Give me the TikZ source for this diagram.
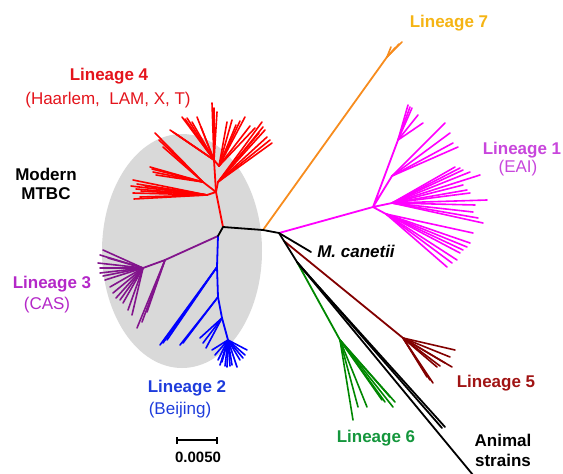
\documentclass[tikz,border=0pt]{standalone}
\usepackage{fontspec}
\setmainfont{Liberation Sans}
\definecolor{ellgray}{RGB}{217,217,217}
\definecolor{linR}{RGB}{255,0,0}
\definecolor{linO}{RGB}{247,140,30}
\definecolor{linM}{RGB}{255,0,255}
\definecolor{linP}{RGB}{130,20,140}
\definecolor{linB}{RGB}{0,0,255}
\definecolor{linD}{RGB}{130,0,0}
\definecolor{linG}{RGB}{0,135,0}
\definecolor{txR}{RGB}{228,20,28}
\definecolor{txO}{RGB}{245,180,20}
\definecolor{txM}{RGB}{200,70,220}
\definecolor{txP}{RGB}{180,40,200}
\definecolor{txB}{RGB}{30,60,220}
\definecolor{txD}{RGB}{160,20,20}
\definecolor{txG}{RGB}{20,150,60}
\begin{document}
\begin{tikzpicture}[x=1pt,y=-1pt,
  br/.style={line width=1.8pt, line cap=round, line join=round},
  tip/.style={line width=1.6pt, line cap=round},
  lab/.style={font=\fontsize{17}{20}\selectfont\bfseries, inner sep=0pt},
  sub/.style={font=\fontsize{17}{20}\selectfont, inner sep=0pt}]
\useasboundingbox (0,0) rectangle (563,474);

% grey shading behind the modern lineages
\fill[ellgray] (182,251) ellipse [x radius=80pt, y radius=117pt];

% internal nodes of the tree
\coordinate (A) at (223,227);
\coordinate (B) at (218,236);
\coordinate (C) at (263,230);
\coordinate (D) at (279,233);
\coordinate (F) at (284,241);
\coordinate (E) at (297,262);
\coordinate (E2) at (300,266);
\coordinate (can) at (311,252);
\coordinate (an1) at (442,428);
\coordinate (an2) at (445,427);
\coordinate (an3) at (473,475);

% lineage 4 (red)
\coordinate (H4) at (216,192);
\coordinate (r1) at (207,195);
\coordinate (r2) at (203,182);
\coordinate (r3) at (214,160);
\coordinate (r4) at (219,166);
\coordinate (r5) at (218,182);
\draw[br,linR] (A) -- (H4) -- (r3);
\draw[br,linR] (H4) -- (r1) (H4) -- (r2) (H4) -- (r5);
\foreach \x/\y in {133/180,131/186,133/193,134/199,140/197,145/186,137/184,141/191,136/189}
  \draw[tip,linR] (r1) -- (\x,\y);
\foreach \x/\y in {150/167,153/172,156/175,152/169,155/133,159/140,163/147}
  \draw[tip,linR] (r2) -- (\x,\y);
\foreach \x/\y in {170/130,173/132,176/134,182/117,185/119,187/118,192/122,197/117,201/127,212/103,214/108,217/112}
  \draw[tip,linR] (r3) -- (\x,\y);
\foreach \x/\y in {227/122,232/120,236/125,240/121,245/117,250/126,255/128}
  \draw[tip,linR] (r4) -- (\x,\y);
\draw[br,linR] (r3) -- (r4);
\foreach \x/\y in {262/122,267/137,272/143,270/140,265/130,259/133,263/127}
  \draw[tip,linR] (r5) -- (\x,\y);

% lineage 3 (purple)
\coordinate (p1) at (165,260);
\coordinate (p2) at (143,268);
\draw[br,linP] (B) -- (p1) -- (p2);
\foreach \x/\y in {137/328,142/322,147/312}
  \draw[tip,linP] (p1) -- (\x,\y);
\foreach \x/\y in {103/250,100/255,98/263,100/268,100/273,103/276,105/280,108/258,110/287,113/293,116/298,120/300,123/303,128/310,132/315}
  \draw[tip,linP] (p2) -- (\x,\y);

% lineage 2 (blue)
\coordinate (b1) at (217,267);
\coordinate (b2) at (218,297);
\coordinate (b3) at (222,318);
\coordinate (b4) at (228,340);
\draw[br,linB] (B) -- (b1) -- (b2) -- (b3) -- (b4);
\foreach \x/\y in {160/345,163/343,167/340}
  \draw[tip,linB] (b1) -- (\x,\y);
\foreach \x/\y in {180/345,183/343}
  \draw[tip,linB] (b2) -- (\x,\y);
\foreach \x/\y in {200/338,203/343,206/348}
  \draw[tip,linB] (b3) -- (\x,\y);
\foreach \x/\y in {212/350,215/355,218/360,220/365,222/362,225/366,227/367,230/366,232/365,237/367,240/360,243/358,245/355,247/350}
  \draw[tip,linB] (b4) -- (\x,\y);

% lineage 7 (orange)
\coordinate (o1) at (387,57);
\draw[br,linO] (C) -- (o1);
\foreach \x/\y in {391/47,395/48,402/42,399/44}
  \draw[tip,linO] (o1) -- (\x,\y);

% lineage 1 (magenta)
\coordinate (P) at (373,207);
\coordinate (pu1) at (398,140);
\coordinate (pu2) at (392,176);
\coordinate (pr) at (392,203);
\coordinate (pd) at (386,214);
\draw[br,linM] (D) -- (P);
\draw[br,linM] (P) -- (pu1) (P) -- (pu2) (P) -- (pr) (P) -- (pd);
\foreach \x/\y in {408/105,410/107,412/108,418/115,423/123}
  \draw[tip,linM] (pu1) -- (\x,\y);
\foreach \x/\y in {445/123,450/133,453/143,458/147}
  \draw[tip,linM] (pu2) -- (\x,\y);
\foreach \x/\y in {455/167,460/168,463/170,470/172,480/175,463/185,467/190,470/193,475/205,487/200,473/212,483/223,478/218}
  \draw[tip,linM] (pr) -- (\x,\y);
\foreach \x/\y in {473/233,470/243,467/247,463/250,460/253,457/260,452/263,447/267}
  \draw[tip,linM] (pd) -- (\x,\y);

% lineage 5 (dark red)
\coordinate (L5) at (403,338);
\draw[br,linD] (F) -- (L5);
\foreach \x/\y in {455/350,450/357,452/367,445/363,440/366,437/367,433/383,430/380,427/377}
  \draw[tip,linD] (L5) -- (\x,\y);

% lineage 6 (green)
\coordinate (G) at (340,340);
\draw[br,linG] (E) -- (G);
\foreach \x/\y in {353/420,358/407,367/407,382/400,385/402,393/407,395/402,390/397}
  \draw[tip,linG] (G) -- (\x,\y);

% black backbone, M. canetii and animal strains
\draw[br,black] (B) -- (A) -- (C) -- (D) -- (F) -- (E);
\draw[br,black] (D) -- (can);
\draw[br,black] (E) -- (an1);
\draw[br,black] (E2) -- (an2);
\draw[br,black] (E) -- (an3);

% scale bar
\coordinate (s1) at (177,440);
\coordinate (s2) at (217,440);
\draw[line width=1.6pt] (s1) -- (s2);
\draw[line width=1.6pt] ([yshift=-3.5pt]s1) -- ([yshift=3.5pt]s1);
\draw[line width=1.6pt] ([yshift=-3.5pt]s2) -- ([yshift=3.5pt]s2);
\node[lab, font=\fontsize{15}{18}\selectfont\bfseries] (scl) at (198,457) {0.0050};

% labels
\node[lab, text=txR] (t4) at (109,76) {Lineage 4};
\node[sub, text=txR] (t4s) at (108,100) {(Haarlem,\ \ LAM, X, T)};
\node[lab, text=txO] (t7) at (449,23) {Lineage 7};
\node[lab, text=txM] (t1) at (522,150) {Lineage 1};
\node[sub, text=txM] (t1s) at (518,168) {(EAI)};
\node[lab, align=center, font=\fontsize{17}{19}\selectfont\bfseries] (tm) at (46,184) {Modern\\MTBC};
\node[lab, text=txP] (t3) at (52,284) {Lineage 3};
\node[sub, text=txP] (t3s) at (47,305) {(CAS)};
\node[lab, text=txB] (t2) at (187,388) {Lineage 2};
\node[sub, text=txB] (t2s) at (180,410) {(Beijing)};
\node[lab, text=txD] (t5) at (496,383) {Lineage 5};
\node[lab, text=txG] (t6) at (376,438) {Lineage 6};
\node[lab, font=\fontsize{17}{20}\selectfont\bfseries\itshape] (tc) at (356,251) {M. canetii};
\node[lab, align=center, font=\fontsize{17}{20}\selectfont\bfseries] (ta) at (503,450) {Animal\\strains};
\end{tikzpicture}
\end{document}
